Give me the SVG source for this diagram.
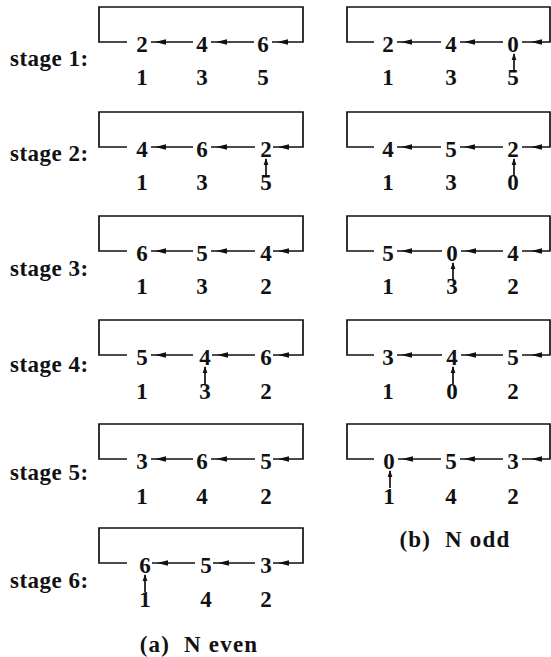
<svg xmlns="http://www.w3.org/2000/svg" xmlns:xlink="http://www.w3.org/1999/xlink" width="551" height="657" viewBox="0 0 551 657">
<style>
text{font-family:"Liberation Serif","Times New Roman",serif;font-weight:bold;fill:#111}
.n{font-size:23px;text-anchor:middle}
.lb{font-size:23px;letter-spacing:0.5px}
.cap{font-size:23px;text-anchor:middle;letter-spacing:1.2px}
.ln{fill:none;stroke:#111;stroke-width:1.7}
.ah{fill:#111}
</style>
<defs>
<path id="ahl" class="ah" d="M0,0 L11,-2.8 L11,2.8 Z"/>
<path id="ahu" class="ah" d="M0,0 L-2.4,7 L2.4,7 Z"/>
</defs>
<rect width="551" height="657" fill="#fff"/>

<!-- stage labels -->
<g id="labels">
<text class="lb" x="10" y="66">stage 1:</text>
<text class="lb" x="10" y="161">stage 2:</text>
<text class="lb" x="10" y="276">stage 3:</text>
<text class="lb" x="10" y="372">stage 4:</text>
<text class="lb" x="10" y="480">stage 5:</text>
<text class="lb" x="10" y="588">stage 6:</text>
</g>

<!-- connectors -->
<g id="connectors">
<!-- panel a -->
<path class="ln" d="M127,42 H99 V7 H303 V42 H272 M151,42 H193 M211,42 H254"/>
<path class="ln" d="M127,147 H99 V112 H303 V147 H273 M151,147 H193 M211,147 H255 M266,159 V176"/>
<path class="ln" d="M127,251 H99 V216 H303 V251 H273 M151,251 H193 M211,251 H255"/>
<path class="ln" d="M127,355 H99 V320 H303 V355 H273 M151,355 H193 M212,355 H255 M205,367 V384"/>
<path class="ln" d="M127,459 H99 V424 H303 V459 H273 M151,459 H193 M211,459 H255"/>
<path class="ln" d="M127,563 H99 V528 H303 V563 H273 M152,563 H195 M213,563 H255 M145,575 V592"/>
<!-- panel b -->
<path class="ln" d="M374,42 H347 V7 H550 V42 H522 M397,42 H441 M460,42 H503 M514,54 V71"/>
<path class="ln" d="M374,147 H347 V112 H550 V147 H522 M397,147 H441 M460,147 H503 M514,159 V176"/>
<path class="ln" d="M374,251 H347 V216 H550 V251 H522 M397,251 H442 M461,251 H503 M453,263 V280"/>
<path class="ln" d="M374,355 H347 V320 H550 V355 H522 M397,355 H442 M461,355 H503 M453,367 V384"/>
<path class="ln" d="M374,459 H347 V424 H550 V459 H522 M398,459 H441 M460,459 H503 M390,471 V488"/>
<!-- arrowheads panel a -->
<use xlink:href="#ahl" x="155" y="42"/><use xlink:href="#ahl" x="216" y="42"/><use xlink:href="#ahl" x="277" y="42"/>
<use xlink:href="#ahl" x="155" y="147"/><use xlink:href="#ahl" x="216" y="147"/><use xlink:href="#ahl" x="278" y="147"/><use xlink:href="#ahu" x="266" y="158"/>
<use xlink:href="#ahl" x="155" y="251"/><use xlink:href="#ahl" x="216" y="251"/><use xlink:href="#ahl" x="278" y="251"/>
<use xlink:href="#ahl" x="155" y="355"/><use xlink:href="#ahl" x="217" y="355"/><use xlink:href="#ahl" x="278" y="355"/><use xlink:href="#ahu" x="205" y="366"/>
<use xlink:href="#ahl" x="155" y="459"/><use xlink:href="#ahl" x="216" y="459"/><use xlink:href="#ahl" x="278" y="459"/>
<use xlink:href="#ahl" x="157" y="563"/><use xlink:href="#ahl" x="218" y="563"/><use xlink:href="#ahl" x="278" y="563"/><use xlink:href="#ahu" x="145" y="574"/>
<!-- arrowheads panel b -->
<use xlink:href="#ahl" x="401" y="42"/><use xlink:href="#ahl" x="464" y="42"/><use xlink:href="#ahl" x="531" y="42"/><use xlink:href="#ahu" x="514" y="53"/>
<use xlink:href="#ahl" x="401" y="147"/><use xlink:href="#ahl" x="464" y="147"/><use xlink:href="#ahl" x="531" y="147"/><use xlink:href="#ahu" x="514" y="158"/>
<use xlink:href="#ahl" x="401" y="251"/><use xlink:href="#ahl" x="465" y="251"/><use xlink:href="#ahl" x="531" y="251"/><use xlink:href="#ahu" x="453" y="262"/>
<use xlink:href="#ahl" x="401" y="355"/><use xlink:href="#ahl" x="465" y="355"/><use xlink:href="#ahl" x="531" y="355"/><use xlink:href="#ahu" x="453" y="366"/>
<use xlink:href="#ahl" x="402" y="459"/><use xlink:href="#ahl" x="464" y="459"/><use xlink:href="#ahl" x="531" y="459"/><use xlink:href="#ahu" x="390" y="470"/>
</g>

<!-- panel a nodes -->
<g id="a1"><text class="n" x="142" y="52">2</text><text class="n" x="202" y="52">4</text><text class="n" x="263" y="52">6</text><text class="n" x="142" y="85">1</text><text class="n" x="202" y="85">3</text><text class="n" x="263" y="85">5</text></g>
<g id="a2"><text class="n" x="142" y="157">4</text><text class="n" x="202" y="157">6</text><text class="n" x="266" y="157">2</text><text class="n" x="142" y="190">1</text><text class="n" x="202" y="190">3</text><text class="n" x="266" y="190">5</text></g>
<g id="a3"><text class="n" x="142" y="261">6</text><text class="n" x="202" y="261">5</text><text class="n" x="266" y="261">4</text><text class="n" x="142" y="294">1</text><text class="n" x="202" y="294">3</text><text class="n" x="266" y="294">2</text></g>
<g id="a4"><text class="n" x="142" y="365">5</text><text class="n" x="205" y="365">4</text><text class="n" x="266" y="365">6</text><text class="n" x="142" y="399">1</text><text class="n" x="205" y="399">3</text><text class="n" x="266" y="399">2</text></g>
<g id="a5"><text class="n" x="142" y="469">3</text><text class="n" x="202" y="469">6</text><text class="n" x="266" y="469">5</text><text class="n" x="142" y="504">1</text><text class="n" x="202" y="504">4</text><text class="n" x="266" y="504">2</text></g>
<g id="a6"><text class="n" x="145" y="573">6</text><text class="n" x="206" y="573">5</text><text class="n" x="266" y="573">3</text><text class="n" x="145" y="607">1</text><text class="n" x="206" y="607">4</text><text class="n" x="266" y="607">2</text></g>

<!-- panel b nodes -->
<g id="b1"><text class="n" x="388" y="52">2</text><text class="n" x="451" y="52">4</text><text class="n" x="513" y="52">0</text><text class="n" x="388" y="85">1</text><text class="n" x="451" y="85">3</text><text class="n" x="513" y="85">5</text></g>
<g id="b2"><text class="n" x="388" y="157">4</text><text class="n" x="451" y="157">5</text><text class="n" x="513" y="157">2</text><text class="n" x="388" y="190">1</text><text class="n" x="451" y="190">3</text><text class="n" x="513" y="190">0</text></g>
<g id="b3"><text class="n" x="388" y="261">5</text><text class="n" x="452" y="261">0</text><text class="n" x="513" y="261">4</text><text class="n" x="388" y="294">1</text><text class="n" x="452" y="294">3</text><text class="n" x="513" y="294">2</text></g>
<g id="b4"><text class="n" x="388" y="365">3</text><text class="n" x="452" y="365">4</text><text class="n" x="513" y="365">5</text><text class="n" x="388" y="399">1</text><text class="n" x="452" y="399">0</text><text class="n" x="513" y="399">2</text></g>
<g id="b5"><text class="n" x="389" y="469">0</text><text class="n" x="451" y="469">5</text><text class="n" x="513" y="469">3</text><text class="n" x="389" y="504">1</text><text class="n" x="451" y="504">4</text><text class="n" x="513" y="504">2</text></g>

<!-- captions -->
<g id="captions">
<text class="cap" x="199" y="652" xml:space="preserve">(a)  N even</text>
<text class="cap" x="455" y="547" xml:space="preserve">(b)  N odd</text>
</g>
</svg>
